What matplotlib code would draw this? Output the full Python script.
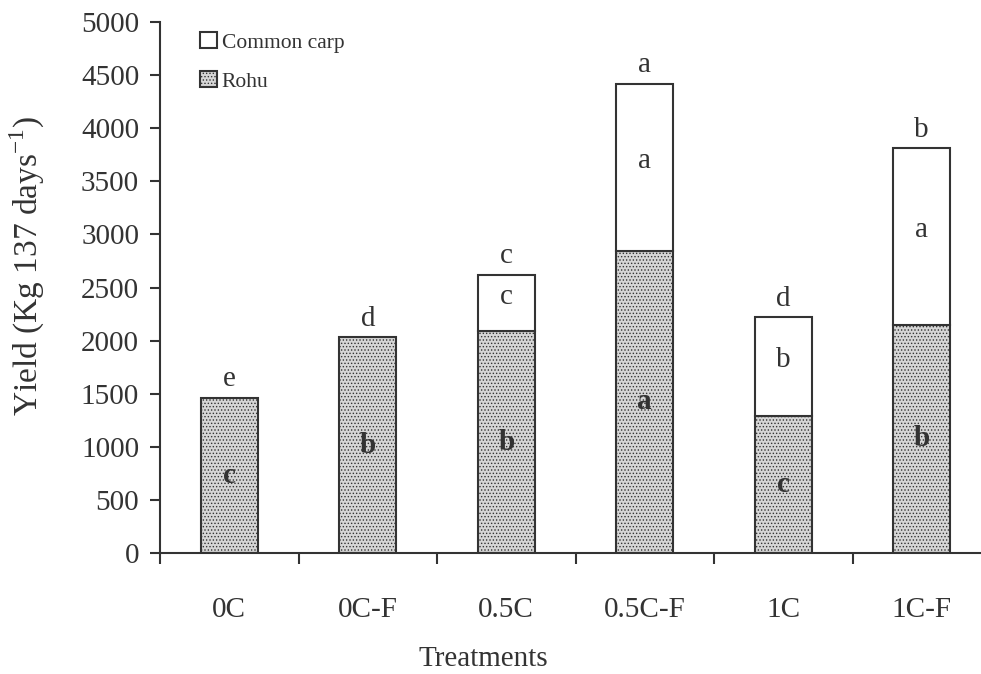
import matplotlib
matplotlib.use("Agg")
import matplotlib.pyplot as plt
import numpy as np

plt.rcParams['font.family'] = ['Liberation Serif', 'DejaVu Serif']
plt.rcParams['mathtext.fontset'] = 'custom'
plt.rcParams['mathtext.rm'] = 'Liberation Serif'
plt.rcParams['hatch.color'] = '#8a8a8a'
plt.rcParams['hatch.linewidth'] = 0.6

treatments = ['0C', '0C-F', '0.5C', '0.5C-F', '1C', '1C-F']
rohu = [1460, 2030, 2090, 2845, 1290, 2150]
carp = [0, 0, 530, 1575, 930, 1660]
top_letters = ['e', 'd', 'c', 'a', 'd', 'b']
carp_letters = ['', '', 'c', 'a', 'b', 'a']
rohu_letters = ['c', 'b', 'b', 'a', 'c', 'b']

dark = '#333333'
fig = plt.figure(figsize=(9.81, 6.74), dpi=100)
ax = fig.add_axes([160/981, 121/674, 831/981, 531/674])

x = np.arange(len(treatments))
w = 0.41
b1 = ax.bar(x, rohu, w, color='#d6d6d6', hatch='.....', edgecolor=dark,
            linewidth=1.5, label='Rohu')
cx = [i for i in x if carp[i] > 0]
b2 = ax.bar(cx, [carp[i] for i in cx], w, bottom=[rohu[i] for i in cx],
            color='white', edgecolor=dark, linewidth=1.5, label='Common carp')

for i in x:
    total = rohu[i] + carp[i]
    ax.annotate(top_letters[i], (i, total), xytext=(0, 4), textcoords='offset points',
                ha='center', va='bottom', fontsize=21, color=dark)
    ax.text(i, rohu[i] / 2, rohu_letters[i], ha='center', va='center',
            fontsize=21, fontweight='bold', color=dark)
    if carp[i] > 0:
        ax.text(i, rohu[i] + carp[i] / 2 + 60, carp_letters[i], ha='center',
                va='center', fontsize=21, color=dark)

ax.set_xlim(-0.5, 5.5)
ax.set_ylim(0, 5000)
ax.set_yticks(np.arange(0, 5001, 500))
ax.set_xticks(x)
ax.set_xticklabels(treatments)
ax.set_xticks(np.arange(-0.5, 6, 1), minor=True)
ax.tick_params(axis='x', which='major', length=0, pad=32, labelsize=21, labelcolor=dark)
ax.tick_params(axis='x', which='minor', length=8, width=1.5, color=dark)
ax.tick_params(axis='y', length=7, width=1.5, color=dark, labelsize=21, labelcolor=dark, pad=8)

for s in ['top', 'right']:
    ax.spines[s].set_visible(False)
for s in ['left', 'bottom']:
    ax.spines[s].set_color(dark)
    ax.spines[s].set_linewidth(1.5)

ax.set_ylabel('Yield (Kg 137 days$^{\\mathregular{-1}}$)', fontsize=24, color=dark)
ax.yaxis.set_label_coords(-0.136, 0.54)
ax.set_xlabel('Treatments', fontsize=21, color=dark)
ax.xaxis.set_label_coords(0.389, -0.175)

ax.legend(handles=[b2, b1], loc='upper left', bbox_to_anchor=(0.025, 1.018),
          frameon=False, fontsize=15.5, handlelength=0.8, handleheight=0.8,
          handletextpad=0.2, labelspacing=0.85, labelcolor=dark)

fig.savefig('out.png', dpi=100)
